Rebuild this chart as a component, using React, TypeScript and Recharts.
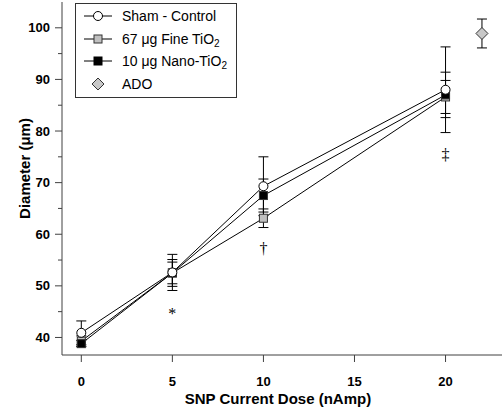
import React from 'react';
import { ComposedChart, Line, Scatter, XAxis, YAxis, ErrorBar } from 'recharts';

// dose (nAmp) for every group
const doses = [0, 5, 10, 20];

// mean diameter (µm) and error for each group
const shamMean = [40.9, 52.6, 69.3, 88.0];
const shamErr = [2.3, 3.5, 5.7, 8.3];
const fineMean = [39.3, 52.5, 63.1, 86.6];
const fineErr = [1.0, 2.6, 1.8, 3.2];
const nanoMean = [38.8, 52.5, 67.5, 87.0];
const nanoErr = [0.6, 2.1, 3.2, 4.4];

// ADO reference point
const adoDose = [22];
const adoMean = [98.9];
const adoErr = [2.8];

// significance marks under the points
const markSymbols = ['*', '†', '‡'];
const markDoses = [5, 10, 20];
const markLevels = [43.6, 56.1, 74.4];

const xTicks = [0, 5, 10, 15, 20];
const yTicks = [40, 45, 50, 55, 60, 65, 70, 75, 80, 85, 90, 95, 100];

const SANS = '"Liberation Sans", Arial, sans-serif';
const AXIS = '#404040';
const GRAY = '#c0c0c0';

const rows = (xs: number[], means: number[], errs: number[]) =>
  xs.map((x, i) => ({ x, y: means[i], err: errs[i] }));

const sham = rows(doses, shamMean, shamErr);
const fine = rows(doses, fineMean, fineErr);
const nano = rows(doses, nanoMean, nanoErr);
const ado = rows(adoDose, adoMean, adoErr);
const marks = markSymbols.map((s, i) => ({ x: markDoses[i], y: markLevels[i], s }));

const squareDot = (fill: string) => (p: any) => (
  <rect key={`sq-${p.index}`} x={p.cx - 4} y={p.cy - 4} width={8} height={8} fill={fill} stroke="#333" strokeWidth={1} />
);

const Diamond = (p: any) => (
  <polygon
    points={`${p.cx},${p.cy - 6} ${p.cx + 6},${p.cy} ${p.cx},${p.cy + 6} ${p.cx - 6},${p.cy}`}
    fill="#c8c8c8"
    stroke="#333"
    strokeWidth={1}
  />
);

const MarkText = (p: any) => (
  <text x={p.cx} y={p.cy} textAnchor="middle" fontFamily='"Liberation Serif", serif' fontSize={16} fill="#000">
    {p.payload.s}
  </text>
);

const YTick = (p: any) => {
  const v = p.payload.value;
  const major = v % 10 === 0;
  return (
    <g>
      <line x1={p.x - (major ? 7 : 4)} x2={p.x} y1={p.y} y2={p.y} stroke={AXIS} />
      {major && (
        <text x={p.x - 12} y={p.y} dy="0.355em" textAnchor="end" fontFamily={SANS} fontSize={13} fontWeight="bold" fill="#000">
          {v}
        </text>
      )}
    </g>
  );
};

const Sub2 = () => <sub style={{ fontSize: 10, verticalAlign: -3, lineHeight: 0 }}>2</sub>;

const legendItems = [
  { key: 'sham', label: <>Sham - Control</>, marker: 'circle', line: true },
  { key: 'fine', label: <>67 μg Fine TiO<Sub2 /></>, marker: 'gray', line: true },
  { key: 'nano', label: <>10 μg Nano-TiO<Sub2 /></>, marker: 'black', line: true },
  { key: 'ado', label: <>ADO</>, marker: 'diamond', line: false },
];

function LegendBox() {
  return (
    <div
      style={{
        position: 'absolute', left: 75, top: 3, width: 160, height: 93,
        border: '1px solid #333', background: '#fff', fontFamily: SANS, fontSize: 14, color: '#000',
      }}
    >
      {legendItems.map((it, i) => (
        <div key={it.key} style={{ position: 'absolute', left: 8, top: 4 + i * 22.5, height: 16, display: 'flex', alignItems: 'center' }}>
          <svg width={28} height={16} style={{ display: 'block' }}>
            {it.line && <line x1={0} x2={28} y1={8} y2={8} stroke="#000" />}
            {it.marker === 'circle' && <circle cx={14} cy={8} r={4.5} fill="#fff" stroke="#000" />}
            {it.marker === 'gray' && <rect x={10} y={4} width={8} height={8} fill={GRAY} stroke="#333" />}
            {it.marker === 'black' && <rect x={10} y={4} width={8} height={8} fill="#000" stroke="#000" />}
            {it.marker === 'diamond' && <polygon points="14,2 20,8 14,14 8,8" fill="#c8c8c8" stroke="#333" />}
          </svg>
          <span style={{ marginLeft: 10, whiteSpace: 'nowrap' }}>{it.label}</span>
        </div>
      ))}
    </div>
  );
}

export default function App() {
  return (
    <div style={{ position: 'absolute', left: 0, top: 0, width: 502, height: 412, background: '#fff' }}>
      <ComposedChart width={502} height={412} margin={{ top: 2, right: 0, bottom: 0, left: 0 }}>
        <XAxis
          dataKey="x"
          type="number"
          domain={[-1.06, 23.1]}
          allowDataOverflow
          ticks={xTicks}
          interval={0}
          height={57}
          tickSize={7}
          tickMargin={15}
          axisLine={{ stroke: AXIS }}
          tickLine={{ stroke: AXIS }}
          tick={{ fill: '#000', fontSize: 13, fontWeight: 'bold', fontFamily: SANS }}
          label={(p: any) => (
            <text
              x={p.viewBox.x + p.viewBox.width / 2 - 4}
              y={p.viewBox.y + 49}
              textAnchor="middle"
              fontFamily={SANS}
              fontSize={15}
              fontWeight="bold"
              fill="#000"
            >
              SNP Current Dose (nAmp)
            </text>
          )}
        />
        <YAxis
          dataKey="y"
          type="number"
          domain={[36.6, 105]}
          allowDataOverflow
          ticks={yTicks}
          interval={0}
          width={62}
          tickSize={0}
          tickMargin={0}
          tickLine={false}
          axisLine={{ stroke: AXIS }}
          tick={<YTick />}
          label={(p: any) => {
            const cx = p.viewBox.x + 25;
            const cy = p.viewBox.y + p.viewBox.height / 2 - 10;
            return (
              <text
                x={cx}
                y={cy}
                transform={`rotate(-90 ${cx} ${cy})`}
                textAnchor="middle"
                dy="0.355em"
                fontFamily={SANS}
                fontSize={15}
                fontWeight="bold"
                fill="#000"
              >
                Diameter (μm)
              </text>
            );
          }}
        />
        <Line data={fine} dataKey="y" stroke="#000" strokeWidth={1} dot={squareDot(GRAY)} activeDot={false} isAnimationActive={false}>
          <ErrorBar dataKey="err" direction="y" width={5} stroke="#000" strokeWidth={1} />
        </Line>
        <Line data={nano} dataKey="y" stroke="#000" strokeWidth={1} dot={squareDot('#000')} activeDot={false} isAnimationActive={false}>
          <ErrorBar dataKey="err" direction="y" width={5} stroke="#000" strokeWidth={1} />
        </Line>
        <Line
          data={sham}
          dataKey="y"
          stroke="#000"
          strokeWidth={1}
          dot={{ r: 4.5, fill: '#fff', stroke: '#000', strokeWidth: 1 }}
          activeDot={false}
          isAnimationActive={false}
        >
          <ErrorBar dataKey="err" direction="y" width={5} stroke="#000" strokeWidth={1} />
        </Line>
        <Scatter data={ado} dataKey="y" shape={<Diamond />} isAnimationActive={false}>
          <ErrorBar dataKey="err" direction="y" width={5} stroke="#000" strokeWidth={1} />
        </Scatter>
        <Scatter data={marks} dataKey="y" shape={<MarkText />} isAnimationActive={false} />
      </ComposedChart>
      <LegendBox />
    </div>
  );
}
